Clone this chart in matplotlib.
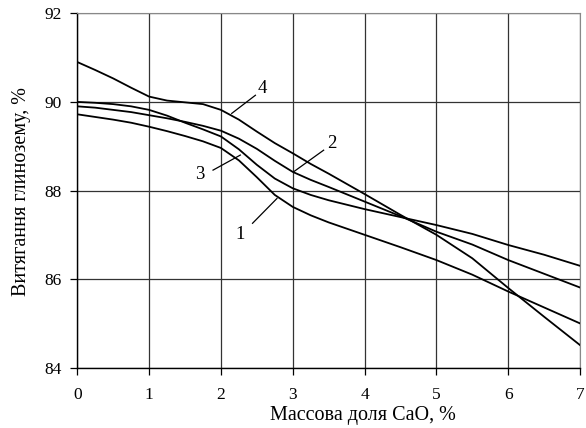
import matplotlib
matplotlib.use("Agg")
import matplotlib.pyplot as plt

x = [0, 0.25, 0.5, 0.75, 1, 1.25, 1.5, 1.75, 2, 2.25, 2.5, 2.75, 3, 3.25, 3.5, 4, 4.5, 5, 5.5, 6, 6.5, 7]
curve1 = [89.72, 89.66, 89.60, 89.53, 89.44, 89.34, 89.23, 89.11, 88.96, 88.68, 88.30, 87.90, 87.63, 87.44, 87.28,
          87.00, 86.72, 86.43, 86.10, 85.72, 85.36, 85.00]
curve2 = [89.90, 89.87, 89.82, 89.77, 89.70, 89.63, 89.55, 89.46, 89.35, 89.17, 88.94, 88.67, 88.42, 88.24, 88.08,
          87.75, 87.42, 87.07, 86.78, 86.43, 86.12, 85.81]
curve3 = [90.00, 89.98, 89.95, 89.90, 89.82, 89.69, 89.53, 89.38, 89.22, 88.93, 88.58, 88.27, 88.05, 87.90, 87.78,
          87.58, 87.40, 87.22, 87.02, 86.77, 86.55, 86.30]
curve4 = [90.90, 90.72, 90.53, 90.32, 90.12, 90.03, 89.99, 89.95, 89.82, 89.60, 89.33, 89.07, 88.84, 88.60, 88.38,
          87.92, 87.45, 87.00, 86.47, 85.80, 85.15, 84.51]

labels = ["1", "2", "3", "4"]
label_pos = [(2.27, 87.0), (3.55, 89.07), (1.71, 88.35), (2.57, 90.31)]
leader_start = [(2.44, 87.26), (3.43, 88.91), (1.89, 88.46), (2.48, 90.15)]
leader_end = [(2.78, 87.82), (3.01, 88.42), (2.27, 88.80), (2.15, 89.74)]

xticks = [0, 1, 2, 3, 4, 5, 6, 7]
yticks = [84, 86, 88, 90, 92]

plt.rcParams['font.family'] = ['Liberation Serif', 'DejaVu Serif']

fig = plt.figure(figsize=(5.86, 4.28), dpi=100)
ax = fig.add_axes([0.1319, 0.1409, 0.9898 - 0.1319, 0.9689 - 0.1409])

for c in (curve1, curve2, curve3, curve4):
    ax.plot(x, c, color='black', lw=1.3, zorder=3, solid_joinstyle='round')

for lab, (tx, ty), (sx, sy), (ex, ey) in zip(labels, label_pos, leader_start, leader_end):
    ax.plot([sx, ex], [sy, ey], color='black', lw=0.9, zorder=3)
    ax.text(tx, ty, lab, ha='center', va='center', fontsize=13.5)

ax.set_xlim(0, 7)
ax.set_ylim(84, 92)
ax.set_xticks(xticks)
ax.set_yticks(yticks)
ax.grid(True, color='#333333', lw=0.9)
ax.set_axisbelow(True)
ax.tick_params(direction='out', length=5, width=0.9, labelsize=12.5, colors='black')
ax.tick_params(axis='x', pad=9)
ax.tick_params(axis='y', pad=6)
for s in ('top', 'right'):
    ax.spines[s].set_color('#888888')
for s in ('left', 'bottom'):
    ax.spines[s].set_color('black')
    ax.spines[s].set_linewidth(1.0)

ax.set_xlabel('Массова доля CaO, %', fontsize=14.5)
ax.set_ylabel('Витягання глинозему, %', fontsize=14.5)
ax.xaxis.set_label_coords(0.568, -0.136)
ax.yaxis.set_label_coords(-0.110, 0.497)
ax.xaxis.label.set_va('center')
ax.yaxis.label.set_va('center')

fig.savefig('out.png', dpi=100)
